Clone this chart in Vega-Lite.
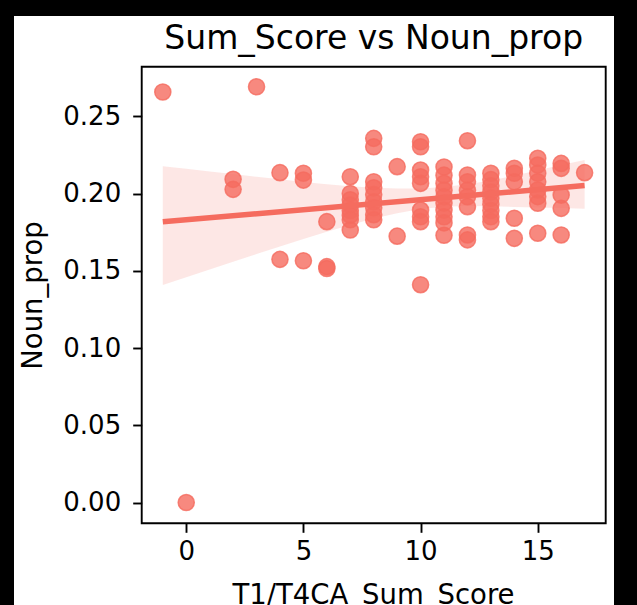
{
  "$schema": "https://vega.github.io/schema/vega-lite/v6.json",
  "width": 600,
  "height": 589,
  "autosize": {"type": "none"},
  "padding": {"left": 14, "top": 16, "right": 23, "bottom": 0},
  "background": "black",
  "config": {
    "view": {"fill": "white", "stroke": null},
    "font": "DejaVu Sans",
    "axis": {
      "labelFont": "DejaVu Sans",
      "titleFont": "DejaVu Sans",
      "labelColor": "black",
      "titleColor": "black",
      "tickColor": "black",
      "labelFontSize": 26,
      "titleFontSize": 27.5,
      "titleFontWeight": "normal",
      "tickSize": 9,
      "tickWidth": 1.9,
      "grid": false,
      "domain": false
    }
  },
  "datasets": {
    "points": [
      {"Sum_Score": -1, "Noun_prop": 0.2657},
      {"Sum_Score": 0, "Noun_prop": 0.0},
      {"Sum_Score": 2, "Noun_prop": 0.2092},
      {"Sum_Score": 2, "Noun_prop": 0.2027},
      {"Sum_Score": 3, "Noun_prop": 0.2691},
      {"Sum_Score": 4, "Noun_prop": 0.2135},
      {"Sum_Score": 4, "Noun_prop": 0.1574},
      {"Sum_Score": 5, "Noun_prop": 0.2131},
      {"Sum_Score": 5, "Noun_prop": 0.2087},
      {"Sum_Score": 5, "Noun_prop": 0.1565},
      {"Sum_Score": 6, "Noun_prop": 0.1818},
      {"Sum_Score": 6, "Noun_prop": 0.1527},
      {"Sum_Score": 6, "Noun_prop": 0.1515},
      {"Sum_Score": 7, "Noun_prop": 0.2109},
      {"Sum_Score": 7, "Noun_prop": 0.2000},
      {"Sum_Score": 7, "Noun_prop": 0.1960},
      {"Sum_Score": 7, "Noun_prop": 0.1925},
      {"Sum_Score": 7, "Noun_prop": 0.1890},
      {"Sum_Score": 7, "Noun_prop": 0.1860},
      {"Sum_Score": 7, "Noun_prop": 0.1830},
      {"Sum_Score": 7, "Noun_prop": 0.1764},
      {"Sum_Score": 8, "Noun_prop": 0.2357},
      {"Sum_Score": 8, "Noun_prop": 0.2303},
      {"Sum_Score": 8, "Noun_prop": 0.2076},
      {"Sum_Score": 8, "Noun_prop": 0.2037},
      {"Sum_Score": 8, "Noun_prop": 0.1993},
      {"Sum_Score": 8, "Noun_prop": 0.1947},
      {"Sum_Score": 8, "Noun_prop": 0.1908},
      {"Sum_Score": 8, "Noun_prop": 0.1863},
      {"Sum_Score": 8, "Noun_prop": 0.1830},
      {"Sum_Score": 9, "Noun_prop": 0.2174},
      {"Sum_Score": 9, "Noun_prop": 0.1724},
      {"Sum_Score": 10, "Noun_prop": 0.2335},
      {"Sum_Score": 10, "Noun_prop": 0.2303},
      {"Sum_Score": 10, "Noun_prop": 0.2152},
      {"Sum_Score": 10, "Noun_prop": 0.2109},
      {"Sum_Score": 10, "Noun_prop": 0.2066},
      {"Sum_Score": 10, "Noun_prop": 0.1893},
      {"Sum_Score": 10, "Noun_prop": 0.1850},
      {"Sum_Score": 10, "Noun_prop": 0.1818},
      {"Sum_Score": 10, "Noun_prop": 0.1410},
      {"Sum_Score": 11, "Noun_prop": 0.2172},
      {"Sum_Score": 11, "Noun_prop": 0.2119},
      {"Sum_Score": 11, "Noun_prop": 0.2066},
      {"Sum_Score": 11, "Noun_prop": 0.2022},
      {"Sum_Score": 11, "Noun_prop": 0.1979},
      {"Sum_Score": 11, "Noun_prop": 0.1938},
      {"Sum_Score": 11, "Noun_prop": 0.1893},
      {"Sum_Score": 11, "Noun_prop": 0.1850},
      {"Sum_Score": 11, "Noun_prop": 0.1810},
      {"Sum_Score": 11, "Noun_prop": 0.1730},
      {"Sum_Score": 12, "Noun_prop": 0.2342},
      {"Sum_Score": 12, "Noun_prop": 0.2120},
      {"Sum_Score": 12, "Noun_prop": 0.2076},
      {"Sum_Score": 12, "Noun_prop": 0.2022},
      {"Sum_Score": 12, "Noun_prop": 0.1979},
      {"Sum_Score": 12, "Noun_prop": 0.1915},
      {"Sum_Score": 12, "Noun_prop": 0.1732},
      {"Sum_Score": 12, "Noun_prop": 0.1700},
      {"Sum_Score": 13, "Noun_prop": 0.2131},
      {"Sum_Score": 13, "Noun_prop": 0.2090},
      {"Sum_Score": 13, "Noun_prop": 0.2050},
      {"Sum_Score": 13, "Noun_prop": 0.2010},
      {"Sum_Score": 13, "Noun_prop": 0.1970},
      {"Sum_Score": 13, "Noun_prop": 0.1930},
      {"Sum_Score": 13, "Noun_prop": 0.1890},
      {"Sum_Score": 13, "Noun_prop": 0.1850},
      {"Sum_Score": 13, "Noun_prop": 0.1818},
      {"Sum_Score": 14, "Noun_prop": 0.2163},
      {"Sum_Score": 14, "Noun_prop": 0.2131},
      {"Sum_Score": 14, "Noun_prop": 0.2076},
      {"Sum_Score": 14, "Noun_prop": 0.1840},
      {"Sum_Score": 14, "Noun_prop": 0.1710},
      {"Sum_Score": 15, "Noun_prop": 0.2228},
      {"Sum_Score": 15, "Noun_prop": 0.2184},
      {"Sum_Score": 15, "Noun_prop": 0.2131},
      {"Sum_Score": 15, "Noun_prop": 0.2076},
      {"Sum_Score": 15, "Noun_prop": 0.2023},
      {"Sum_Score": 15, "Noun_prop": 0.1980},
      {"Sum_Score": 15, "Noun_prop": 0.1937},
      {"Sum_Score": 15, "Noun_prop": 0.1743},
      {"Sum_Score": 16, "Noun_prop": 0.2195},
      {"Sum_Score": 16, "Noun_prop": 0.2163},
      {"Sum_Score": 16, "Noun_prop": 0.1990},
      {"Sum_Score": 16, "Noun_prop": 0.1904},
      {"Sum_Score": 16, "Noun_prop": 0.1732},
      {"Sum_Score": 17, "Noun_prop": 0.2135}
    ],
    "band": [
      {"Sum_Score": -1, "lo": 0.1408, "hi": 0.2177},
      {"Sum_Score": 0, "lo": 0.1458, "hi": 0.2160},
      {"Sum_Score": 1, "lo": 0.1508, "hi": 0.2143},
      {"Sum_Score": 2, "lo": 0.1558, "hi": 0.2126},
      {"Sum_Score": 3, "lo": 0.1608, "hi": 0.2109},
      {"Sum_Score": 4, "lo": 0.1658, "hi": 0.2092},
      {"Sum_Score": 5, "lo": 0.1705, "hi": 0.2075},
      {"Sum_Score": 6, "lo": 0.1752, "hi": 0.2060},
      {"Sum_Score": 7, "lo": 0.1797, "hi": 0.2047},
      {"Sum_Score": 8, "lo": 0.1838, "hi": 0.2037},
      {"Sum_Score": 9, "lo": 0.1873, "hi": 0.2032},
      {"Sum_Score": 10, "lo": 0.1900, "hi": 0.2033},
      {"Sum_Score": 11, "lo": 0.1915, "hi": 0.2042},
      {"Sum_Score": 12, "lo": 0.1920, "hi": 0.2060},
      {"Sum_Score": 13, "lo": 0.1918, "hi": 0.2085},
      {"Sum_Score": 14, "lo": 0.1913, "hi": 0.2115},
      {"Sum_Score": 15, "lo": 0.1910, "hi": 0.2150},
      {"Sum_Score": 16, "lo": 0.1906, "hi": 0.2185},
      {"Sum_Score": 17, "lo": 0.1902, "hi": 0.2217}
    ],
    "frame": [
      {"x0": -1.9, "x1": 17.9, "y0": -0.0134, "y1": 0.2821}
    ],
    "heading": [
      {"label": "Sum_Score vs Noun_prop", "xc": 8, "yb": 0.2934}
    ]
  },
  "layer": [
    {
      "data": {"name": "band"},
      "mark": {"type": "area", "color": "#F56C5F", "opacity": 0.16},
      "encoding": {
        "x": {
          "field": "Sum_Score",
          "type": "quantitative",
          "scale": {"domain": [-7.35, 18.254], "nice": false, "zero": false},
          "axis": {
            "values": [0, 5, 10, 15],
            "offset": -81.7,
            "title": "T1/T4CA_Sum_Score",
            "labelPadding": 6,
            "titleX": 359,
            "titleY": 80,
            "titleBaseline": "alphabetic",
            "titleAnchor": null
          }
        },
        "y": {
          "field": "lo",
          "type": "quantitative",
          "scale": {"domain": [-0.0663, 0.3149], "nice": false, "zero": false},
          "axis": {
            "values": [0, 0.05, 0.1, 0.15, 0.2, 0.25],
            "format": ".2f",
            "offset": -127.7,
            "title": "Noun_prop",
            "labelPadding": 12,
            "titleX": -100,
            "titleY": 279,
            "titleBaseline": "alphabetic",
            "titleAnchor": null
          }
        },
        "y2": {"field": "hi"}
      }
    },
    {
      "data": {"name": "points"},
      "mark": {"type": "point", "filled": true, "shape": "circle", "size": 260, "color": "#F56C5F", "fillOpacity": 0.8, "strokeOpacity": 0.8, "stroke": "#F56C5F", "strokeWidth": 1.5},
      "encoding": {
        "x": {"field": "Sum_Score", "type": "quantitative"},
        "y": {"field": "Noun_prop", "type": "quantitative"}
      }
    },
    {
      "data": {"name": "points"},
      "transform": [
        {"regression": "Noun_prop", "on": "Sum_Score", "extent": [-1, 17]}
      ],
      "mark": {"type": "line", "color": "#F56C5F", "strokeWidth": 5.5},
      "encoding": {
        "x": {"field": "Sum_Score", "type": "quantitative"},
        "y": {"field": "Noun_prop", "type": "quantitative"}
      }
    },
    {
      "data": {"name": "frame"},
      "mark": {"type": "rect", "fill": null, "fillOpacity": 0, "stroke": "black", "strokeWidth": 1.9},
      "encoding": {
        "x": {"field": "x0", "type": "quantitative"},
        "x2": {"field": "x1"},
        "y": {"field": "y0", "type": "quantitative"},
        "y2": {"field": "y1"}
      }
    },
    {
      "data": {"name": "heading"},
      "mark": {"type": "text", "font": "DejaVu Sans", "fontSize": 33, "color": "black", "align": "center", "baseline": "alphabetic"},
      "encoding": {
        "x": {"field": "xc", "type": "quantitative"},
        "y": {"field": "yb", "type": "quantitative"},
        "text": {"field": "label"}
      }
    }
  ]
}
